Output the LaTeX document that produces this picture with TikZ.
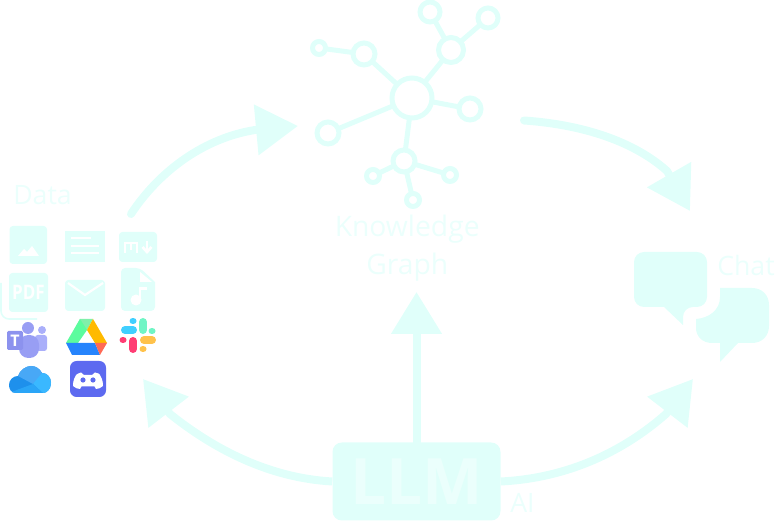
\documentclass[tikz,border=0pt]{standalone}
\usepackage{fontspec}
\usepackage{xcolor}
\setmainfont{Open Sans}
\usetikzlibrary{arrows.meta}
\definecolor{mintfill}{RGB}{224,255,250}
\definecolor{minttext}{RGB}{235,255,252}
\definecolor{teamsdark}{RGB}{140,146,238}
\definecolor{teamsmid}{RGB}{152,158,244}
\definecolor{teamslight}{RGB}{170,175,250}
\definecolor{drivegreen}{RGB}{92,252,158}
\definecolor{drivetop}{RGB}{128,240,170}
\definecolor{driveyellow}{RGB}{255,186,0}
\definecolor{driveblue}{RGB}{38,132,252}
\definecolor{drivered}{RGB}{255,106,85}
\definecolor{slackblue}{RGB}{64,207,255}
\definecolor{slackgreen}{RGB}{112,245,197}
\definecolor{slackred}{RGB}{255,61,116}
\definecolor{slackyellow}{RGB}{255,194,75}
\definecolor{clouddark}{RGB}{30,144,236}
\definecolor{cloudtop}{RGB}{72,168,246}
\definecolor{cloudlow}{RGB}{42,165,247}
\definecolor{cloudright}{RGB}{58,184,255}
\definecolor{discordblue}{RGB}{93,106,240}

\begin{document}
\begin{tikzpicture}[
    x=0.75pt, y=-0.75pt,
    ring/.style={draw=mintfill, circle, line width=3.75pt, inner sep=0pt, outer sep=0pt},
    ringhub/.style={ring, minimum size=30pt},
    ringbig/.style={ring, minimum size=18.75pt},
    ringmid/.style={ring, minimum size=16.5pt},
    ringtop/.style={ring, minimum size=15pt},
    ringsmall/.style={ring, minimum size=9.75pt},
    spoke/.style={draw=mintfill, line width=3.75pt},
    bigarrow/.style={draw=mintfill, line width=6pt, line cap=round, -{Triangle[length=31.5pt, width=36.75pt]}},
    label/.style={text=minttext, font=\fontsize{20}{28.5}\selectfont, inner sep=0pt, anchor=base west},
    kglabelstyle/.style={label, font=\fontsize{21.2}{28.5}\selectfont},
    iconbox/.style={fill=mintfill, rounded corners=2.5pt},
    iconcut/.style={draw=white, line width=1.6pt},
    slackpill/.style={line width=6pt, line cap=round},
    slackdot/.style={line width=5.2pt, line cap=round}
]
\useasboundingbox (0,0) rectangle (779,523);

% ---------- Knowledge graph ----------
\node[ringhub] (hub) at (412,98) {};
\node[ringbig] (branchtr) at (451,50) {};
\node[ringtop] (leaftop) at (430,12) {};
\node[ringtop] (leafright) at (488,18) {};
\node[ringmid] (branchl) at (364,54) {};
\node[ringsmall] (leaffar) at (319,48) {};
\node[ringmid] (spokeright) at (470,109) {};
\node[ringmid] (spokeleft) at (328,133) {};
\node[ringmid] (branchb) at (404,161) {};
\node[ringsmall] (leafbl) at (373,176) {};
\node[ringsmall] (leafbr) at (450,175) {};
\node[ringsmall] (leafbb) at (413,200) {};

\draw[spoke] (hub) -- (branchtr);
\draw[spoke] (branchtr) -- (leaftop);
\draw[spoke] (branchtr) -- (leafright);
\draw[spoke] (hub) -- (branchl);
\draw[spoke] (branchl) -- (leaffar);
\draw[spoke] (hub) -- (spokeright);
\draw[spoke] (hub) -- (spokeleft);
\draw[spoke] (hub) -- (branchb);
\draw[spoke] (branchb) -- (leafbl);
\draw[spoke] (branchb) -- (leafbr);
\draw[spoke] (branchb) -- (leafbb);

% ---------- Labels ----------
\node[label] (datalabel) at (13,205) {Data};
\node[kglabelstyle] (kglabel) at (334.5,237) {Knowledge};
\node[kglabelstyle] (graphlabel) at (366,275) {Graph};
\node[label] (chatlabel) at (717,276) {Chat};
\node[label] (ailabel) at (510,513) {AI};

% ---------- LLM ----------
\node[fill=mintfill, rounded corners=7pt, minimum width=126pt, minimum height=58.5pt, inner sep=0pt, text=minttext, font=\fontsize{48}{48}\selectfont\bfseries] (llm) at (416.5,481.5) {LLM};

% ---------- Arrows ----------
\coordinate (datastart) at (131,214);
\coordinate (dataneck) at (255,130);
\coordinate (datatip) at (298,126);
\coordinate (chatstart) at (524,120.5);
\coordinate (chatneck) at (667,171);
\coordinate (chattip) at (690,211);
\coordinate (uptip) at (416.5,292);
\coordinate (leftneck) at (170,414);
\coordinate (lefttip) at (143,379);
\coordinate (rightneck) at (666,414);
\coordinate (righttip) at (693,379);

\draw[bigarrow] (datastart) .. controls (160,170) and (205,138) .. (dataneck) -- (datatip);
\draw[bigarrow] (chatstart) .. controls (575,124) and (630,138) .. (chatneck) -- (chattip);
\draw[bigarrow] (llm.north) -- (uptip);
\draw[bigarrow, line cap=butt] (llm.west) .. controls (270,478) and (215,450) .. (leftneck) -- (lefttip);
\draw[bigarrow, line cap=butt] (llm.east) .. controls (570,478) and (625,450) .. (rightneck) -- (righttip);

% ---------- Chat bubbles ----------
\fill[mintfill, rounded corners=7.5pt] (634,252) -- (707,252) -- (707,307) -- (683,307) [sharp corners] -- (683,325) -- (664,307) [rounded corners=7.5pt] -- (634,307) -- cycle;
\fill[mintfill] (720,288) -- (752,288) .. controls (762,288) and (769,295) .. (769,305) -- (769,326) .. controls (769,336) and (762,343) .. (752,343) -- (738,343) -- (720,362) -- (720,343) -- (712,343) .. controls (702,343) and (696,336) .. (696,328) -- (696,319) .. controls (709,318) and (720,310) .. (720,297) -- cycle;

% ---------- Data icons ----------
\draw[mintfill, line width=1.2pt, rounded corners=6pt] (1,283) -- (1,319) -- (37,319);

\fill[iconbox] (9.5,226) rectangle (47,264);
\fill[white] (18,256) -- (24,249) -- (27,252) -- (32,246) -- (39,256) -- cycle;

\fill[mintfill] (65,231) rectangle (105,262);
\draw[iconcut] (71,238) -- (91,238);
\draw[iconcut] (71,246) -- (99,246);
\draw[iconcut] (71,253) -- (99,253);

\fill[iconbox] (119,232) rectangle (157,262);
\draw[iconcut, line width=2pt] (125,253) -- (125,243) -- (137,243) -- (137,253);
\draw[iconcut, line width=2pt] (131,243) -- (131,250);
\draw[iconcut, line width=2pt] (147,241) -- (147,252);
\draw[iconcut, line width=2pt] (142.5,247) -- (147,252) -- (151.5,247);

\fill[iconbox] (9,273) rectangle (48,312);
\node[text=white, font=\fontsize{15}{15}\selectfont\bfseries, inner sep=0pt, xscale=0.85] (pdflabel) at (28.5,292) {PDF};

\fill[iconbox] (65,280) rectangle (105,311);
\draw[iconcut] (68,283) -- (85,295) -- (103,283);

\fill[mintfill, rounded corners=3pt] (121,268) -- (140,268) [sharp corners] -- (155,282) [rounded corners=3pt] -- (155,311) -- (121,311) -- cycle;
\fill[white] (140,272) -- (140,282) -- (152,282) -- cycle;
\fill[white] (136,300) circle (5.5);
\draw[iconcut, line width=2.2pt] (140,300) -- (140,288.5) -- (147,288.5);

% ---------- Teams ----------
\fill[teamslight, rounded corners=2pt] (35,335) rectangle (47,351);
\fill[teamslight] (42,330) circle (4);
\fill[teamsmid, rounded corners=7pt] (19,335) -- (39,335) -- (39,358) -- (19,358) -- cycle;
\fill[teamsmid] (28,328) circle (6);
\fill[teamsdark, rounded corners=1pt] (7,331) rectangle (23,350);
\node[text=white, font=\fontsize{12}{12}\selectfont\bfseries, inner sep=0pt] (teamslabel) at (15,340.5) {T};

% ---------- Drive ----------
\fill[drivetop] (80,319) -- (93,319) -- (87,330) -- (74,330) -- cycle;
\fill[driveyellow] (93,319) -- (107,343) -- (95,343) -- (87,330) -- cycle;
\fill[drivegreen] (80,319) -- (87,330) -- (78,343) -- (66,343) -- cycle;
\fill[driveblue] (66,343) -- (95,343) -- (100,355) -- (72,355) -- cycle;
\fill[drivered] (95,343) -- (107,343) -- (100,355) -- cycle;

% ---------- Slack ----------
\draw[slackpill, slackblue] (125,330) -- (133,330);
\draw[slackdot, slackblue] (133,321) -- (133.1,321);
\draw[slackpill, slackgreen] (143,322) -- (143,330);
\draw[slackdot, slackgreen] (152,331) -- (152.1,331);
\draw[slackpill, slackred] (133,341) -- (133,349);
\draw[slackdot, slackred] (123,340) -- (123.1,340);
\draw[slackpill, slackyellow] (144,340) -- (152,340);
\draw[slackdot, slackyellow] (143,349) -- (143.1,349);

% ---------- OneDrive ----------
\begin{scope}
\clip (16,393) .. controls (11,393) and (9,389) .. (9,385) .. controls (9,380) and (13,376) .. (18,376) .. controls (20,370) and (26,366) .. (31,366) .. controls (36,366) and (40,369) .. (42,373) .. controls (48,373) and (51,378) .. (51,383) .. controls (51,389) and (47,393) .. (43,393) -- cycle;
\fill[clouddark] (5,360) rectangle (55,395);
\fill[cloudtop] (15,362) -- (46,362) -- (46,373) -- (33,384) -- (18,376) -- cycle;
\fill[cloudright] (33,384) -- (42,373) -- (55,373) -- (55,395) -- (45,395) -- cycle;
\fill[cloudlow] (5,395) -- (14,391) -- (33,384) -- (45,395) -- cycle;
\end{scope}

% ---------- Discord ----------
\fill[discordblue, rounded corners=5pt] (70,361) rectangle (106,397);
\fill[white] (81,372.5) -- (84,375) -- (92,375) -- (95,372.5) .. controls (98,373) and (100,374) .. (100,375) .. controls (103,380) and (103,384) .. (103,386) .. controls (101,388) and (98,389) .. (96,389) -- (94.5,386.5) -- (81.5,386.5) -- (80,389) .. controls (78,389) and (75,388) .. (73,386) .. controls (73,384) and (73,380) .. (76,375) .. controls (77,374) and (79,373) .. (81,372.5) -- cycle;
\fill[discordblue] (83,380) circle (2.6);
\fill[discordblue] (93,380) circle (2.6);

\end{tikzpicture}
\end{document}
